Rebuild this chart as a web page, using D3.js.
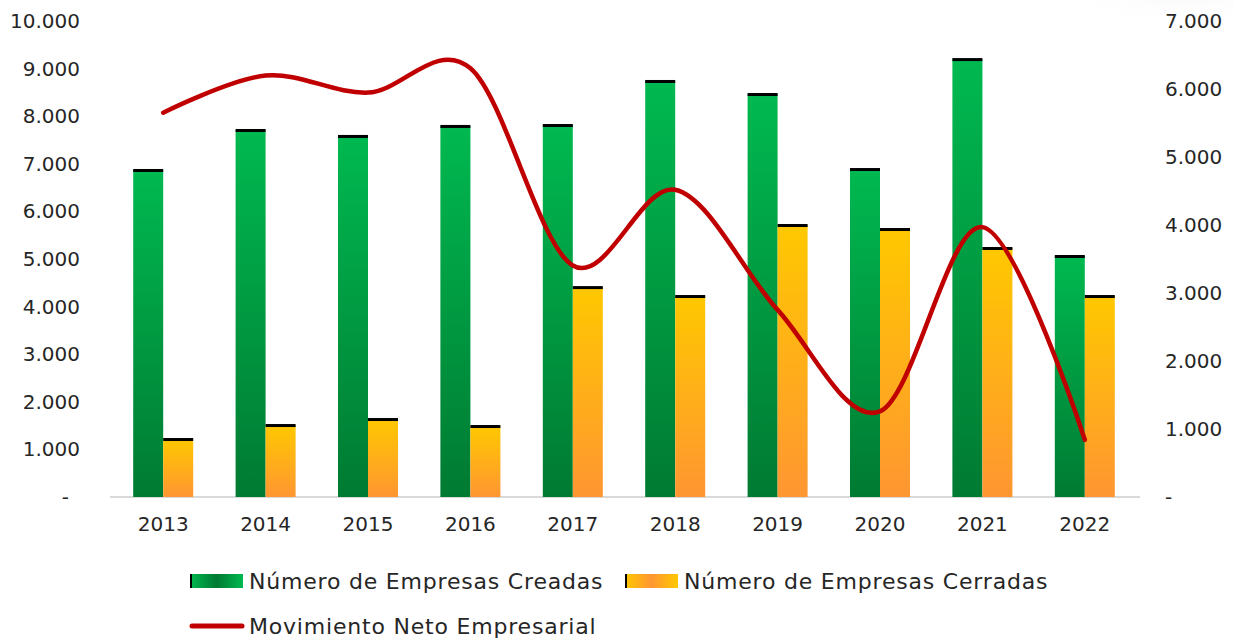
<!DOCTYPE html>
<html>
<head>
<meta charset="utf-8">
<script src="https://cdn.jsdelivr.net/npm/d3@7"></script>
<style>
  body { margin: 0; background: #fff; }
  text { font-family: "DejaVu Sans", sans-serif; fill: #262626; }
</style>
</head>
<body>
<div id="chart"></div>
<script>
// data
var years = ["2013", "2014", "2015", "2016", "2017", "2018", "2019", "2020", "2021", "2022"];
var creadas = [6870, 7710, 7585, 7795, 7815, 8740, 8466, 6890, 9200, 5063];
var cerradas = [1218, 1512, 1638, 1491, 4410, 4222, 5714, 5630, 5231, 4222];
var neto = [5652, 6198, 5947, 6304, 3405, 4518, 2752, 1260, 3969, 841];
var leftTicks = [0, 1000, 2000, 3000, 4000, 5000, 6000, 7000, 8000, 9000, 10000];
var rightTicks = [0, 1000, 2000, 3000, 4000, 5000, 6000, 7000];

var W = 1234, H = 638;
var plot = {left: 112, right: 1136, top: 21, bottom: 497};

var svg = d3.select("#chart").append("svg")
    .attr("width", W).attr("height", H);

var defs = svg.append("defs");
function vGrad(id, top, bottom) {
  var g = defs.append("linearGradient").attr("id", id)
      .attr("x1", 0).attr("y1", 0).attr("x2", 0).attr("y2", 1);
  g.append("stop").attr("offset", "0%").attr("stop-color", top);
  g.append("stop").attr("offset", "100%").attr("stop-color", bottom);
}
function hGrad(id, edge, mid) {
  var g = defs.append("linearGradient").attr("id", id)
      .attr("x1", 0).attr("y1", 0).attr("x2", 1).attr("y2", 0);
  g.append("stop").attr("offset", "0%").attr("stop-color", edge);
  g.append("stop").attr("offset", "50%").attr("stop-color", mid);
  g.append("stop").attr("offset", "100%").attr("stop-color", edge);
}
vGrad("gGreen", "#00B950", "#007A32");
vGrad("gYellow", "#FFC800", "#FF9632");
hGrad("lgGreen", "#00B950", "#007A32");
hGrad("lgYellow", "#FFC800", "#FF9632");

// subtle shading in top right corner
var shade = defs.append("radialGradient").attr("id", "shade")
    .attr("cx", 0.5).attr("cy", 0).attr("r", 0.6);
shade.append("stop").attr("offset", "0%").attr("stop-color", "#ececec");
shade.append("stop").attr("offset", "100%").attr("stop-color", "#fff").attr("stop-opacity", 0);
svg.append("rect").attr("x", 1060).attr("y", -40).attr("width", 240).attr("height", 120)
    .attr("fill", "url(#shade)");

var x = d3.scaleBand().domain(years).range([plot.left, plot.right]);
var yL = d3.scaleLinear().domain([0, 10000]).range([plot.bottom, plot.top]);
var yR = d3.scaleLinear().domain([0, 7000]).range([plot.bottom, plot.top]);
var barW = 30;
var fmt = function(d) { return d === 0 ? "-" : d3.format(",")(d).replace(/,/g, "."); };

// left axis
var gl = svg.append("g").attr("transform", "translate(" + plot.left + ",0)")
    .call(d3.axisLeft(yL).tickValues(leftTicks).tickSize(0).tickPadding(32).tickFormat(fmt));
gl.select(".domain").remove();
gl.selectAll("text").style("font-size", "20px")
    .attr("dx", function(d) { return d === 0 ? -11 : 0; });

// right axis
var gr = svg.append("g").attr("transform", "translate(" + plot.right + ",0)")
    .call(d3.axisRight(yR).tickValues(rightTicks).tickSize(0).tickPadding(29).tickFormat(fmt));
gr.select(".domain").remove();
gr.selectAll("text").style("font-size", "20px");

// bottom axis
var gb = svg.append("g").attr("transform", "translate(0," + plot.bottom + ")")
    .call(d3.axisBottom(x).tickSize(0).tickPadding(20));
gb.select(".domain").attr("stroke", "#d9d9d9").attr("stroke-width", 2)
    .attr("d", "M" + (plot.left - 2) + ",0H" + (plot.right + 4));
gb.selectAll("text").style("font-size", "20px");

// bars
var bars = svg.append("g");
bars.selectAll(".creadas").data(years).enter().append("rect")
    .attr("x", function(d) { return x(d) + x.bandwidth() / 2 - barW; })
    .attr("y", function(d, i) { return yL(creadas[i]); })
    .attr("width", barW)
    .attr("height", function(d, i) { return yL(0) - yL(creadas[i]); })
    .attr("fill", "url(#gGreen)");
bars.selectAll(".cerradas").data(years).enter().append("rect")
    .attr("x", function(d) { return x(d) + x.bandwidth() / 2; })
    .attr("y", function(d, i) { return yL(cerradas[i]); })
    .attr("width", barW)
    .attr("height", function(d, i) { return yL(0) - yL(cerradas[i]); })
    .attr("fill", "url(#gYellow)");

// black caps on top of bars
bars.selectAll(".capC").data(years).enter().append("rect")
    .attr("x", function(d) { return x(d) + x.bandwidth() / 2 - barW; })
    .attr("y", function(d, i) { return yL(creadas[i]) - 1; })
    .attr("width", barW).attr("height", 3).attr("fill", "#000");
bars.selectAll(".capR").data(years).enter().append("rect")
    .attr("x", function(d) { return x(d) + x.bandwidth() / 2; })
    .attr("y", function(d, i) { return yL(cerradas[i]) - 1; })
    .attr("width", barW).attr("height", 3).attr("fill", "#000");

// net line
var line = d3.line()
    .x(function(d, i) { return x(years[i]) + x.bandwidth() / 2; })
    .y(function(d) { return yR(d); })
    .curve(d3.curveCatmullRom.alpha(0));
svg.append("path").datum(neto)
    .attr("d", line)
    .attr("fill", "none")
    .attr("stroke", "#C00000")
    .attr("stroke-width", 4.5)
    .attr("stroke-linecap", "round");

// legend
var legend = svg.append("g");
var items = [
  {label: "Número de Empresas Creadas", x: 190, y: 581, fill: "url(#lgGreen)"},
  {label: "Número de Empresas Cerradas", x: 625, y: 581, fill: "url(#lgYellow)"},
  {label: "Movimiento Neto Empresarial", x: 190, y: 626, line: true}
];
items.forEach(function(it) {
  if (it.line) {
    legend.append("line").attr("x1", it.x + 2).attr("x2", it.x + 52)
        .attr("y1", it.y).attr("y2", it.y)
        .attr("stroke", "#C00000").attr("stroke-width", 5).attr("stroke-linecap", "round");
  } else {
    legend.append("rect").attr("x", it.x).attr("y", it.y - 7)
        .attr("width", 53).attr("height", 14).attr("fill", it.fill);
    legend.append("rect").attr("x", it.x).attr("y", it.y - 7)
        .attr("width", 2).attr("height", 14).attr("fill", "#000");
  }
  legend.append("text").attr("x", it.x + 59).attr("y", it.y)
      .attr("dy", "0.35em").style("font-size", "22px")
      .style("letter-spacing", "0.8px").text(it.label);
});
</script>
</body>
</html>
